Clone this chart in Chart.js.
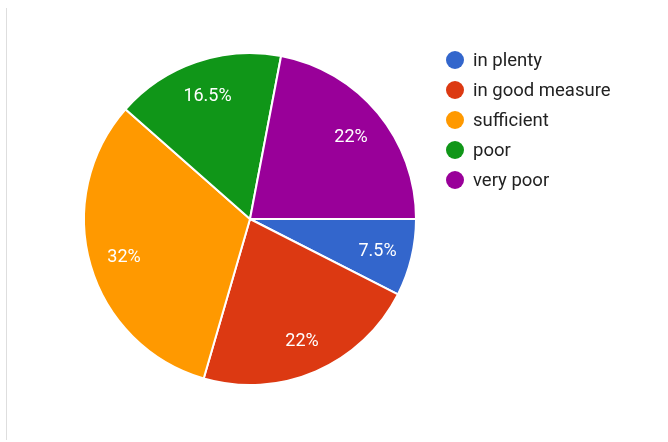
<!DOCTYPE html>
<html>
<head>
<meta charset="utf-8">
<script src="https://cdn.jsdelivr.net/npm/chart.js@4"></script>
<style>
  html, body { margin: 0; padding: 0; background: #fff; }
  #wrap { position: relative; width: 668px; height: 442px; }
  #edge { position: absolute; left: 6px; top: 8px; width: 1px; height: 432px; background: #dedede; }
</style>
</head>
<body>
<div id="wrap">
  <div id="edge"></div>
  <canvas id="piechart" width="668" height="442"></canvas>
</div>
<script>
const labels = ["in plenty", "in good measure", "sufficient", "poor", "very poor"];
const shares = [7.5, 22, 32, 16.5, 22];
const colors = ["#3366cc", "#dc3912", "#ff9900", "#109618", "#990099"];

// percentage text inside each slice
const sliceLabels = {
  id: "sliceLabels",
  afterDatasetsDraw(chart) {
    const ctx = chart.ctx;
    const meta = chart.getDatasetMeta(0);
    ctx.save();
    ctx.font = "18px Roboto";
    ctx.fillStyle = "#ffffff";
    ctx.textAlign = "center";
    ctx.textBaseline = "middle";
    meta.data.forEach((arc, i) => {
      const mid = (arc.startAngle + arc.endAngle) / 2;
      const r = arc.outerRadius * 0.79;
      ctx.fillText(shares[i] + "%", arc.x + Math.cos(mid) * r, arc.y + Math.sin(mid) * r + 2);
    });
    ctx.restore();
  }
};

// legend on the right, circle markers
const sideLegend = {
  id: "sideLegend",
  afterDraw(chart) {
    const ctx = chart.ctx;
    ctx.save();
    ctx.font = "18.5px Roboto";
    ctx.textBaseline = "middle";
    chart.data.labels.forEach((name, i) => {
      const y = 60 + i * 30;
      ctx.fillStyle = chart.data.datasets[0].backgroundColor[i];
      ctx.beginPath();
      ctx.arc(455, y, 9, 0, Math.PI * 2);
      ctx.fill();
      ctx.fillStyle = "#222222";
      ctx.fillText(name, 473, y + 1);
    });
    ctx.restore();
  }
};

new Chart(document.getElementById("piechart"), {
  type: "pie",
  data: {
    labels: labels,
    datasets: [{
      data: shares,
      backgroundColor: colors,
      borderColor: "#ffffff",
      borderWidth: 2
    }]
  },
  options: {
    responsive: false,
    animation: false,
    rotation: 90,
    layout: { padding: { left: 83, right: 251, top: 52, bottom: 56 } },
    plugins: {
      legend: { display: false },
      tooltip: { enabled: false }
    }
  },
  plugins: [sliceLabels, sideLegend]
});
</script>
</body>
</html>
